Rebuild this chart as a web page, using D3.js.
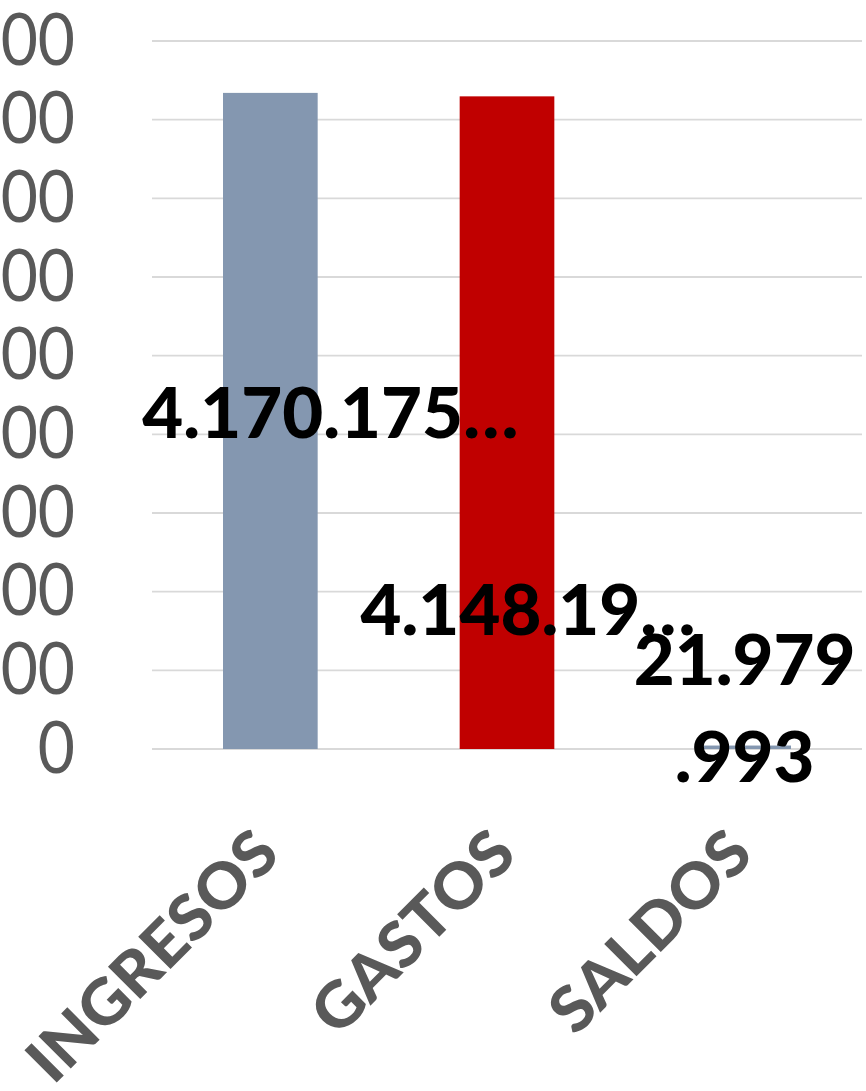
<!DOCTYPE html>
<html><head><meta charset="utf-8">
<script src="https://cdn.jsdelivr.net/npm/d3@7"></script>
<style>html,body{margin:0;padding:0;background:#fff;overflow:hidden}</style>
</head><body>
<svg id="c" width="866" height="1091"></svg>
<script>
// ---- data ----
const categories = ["INGRESOS", "GASTOS", "SALDOS"];
const values = [4170175500, 4148195507, 21979993];
const valueLabels = [["4.170.175…"], ["4.148.19…"], ["21.979", ".993"]];
const barColors = ["#8497B0", "#C00000", "#8497B0"];
const yTicks = [0, 500000000, 1000000000, 1500000000, 2000000000, 2500000000,
                3000000000, 3500000000, 4000000000, 4500000000];

// ---- layout ----
const W = 866, H = 1091;
const plot = {left: 152, right: 862, top: 41, bottom: 749};
const labelDx = [60, 21, 1];          // data label offset from bar centre (px)
const labelBaseline = [438, 635, 685]; // data label first-line baseline (px)
const labelLineHeight = 97;

const svg = d3.select("#c");
const x = d3.scaleBand().domain(categories).range([plot.left, plot.right])
  .paddingInner(0.6).paddingOuter(0.3);
const y = d3.scaleLinear().domain([0, 4500000000]).range([plot.bottom, plot.top]);

const loc = d3.formatLocale({decimal: ",", thousands: ".", grouping: [3], currency: ["", "€"]});
const fmt = loc.format(",d");

// gridlines
svg.append("g").selectAll("line").data(yTicks).join("line")
  .attr("x1", plot.left).attr("x2", plot.right)
  .attr("y1", d => y(d)).attr("y2", d => y(d))
  .attr("stroke", "#d9d9d9").attr("stroke-width", 1.8);

// y axis labels
const ax = svg.append("g").attr("transform", "translate(75,0) scale(0.89,1)")
  .call(d3.axisLeft(y).tickValues(yTicks).tickFormat(fmt).tickSize(0).tickPadding(0));
ax.select(".domain").remove();
ax.selectAll("text").attr("font-family", "Lato, 'Open Sans', sans-serif")
  .attr("font-size", 72).attr("fill", "#595959");

// bars
svg.append("g").selectAll("rect").data(categories).join("rect")
  .attr("x", d => x(d)).attr("width", x.bandwidth())
  .attr("y", (d, i) => y(values[i]))
  .attr("height", (d, i) => y(0) - y(values[i]))
  .attr("fill", (d, i) => barColors[i]);

// data labels
const dl = svg.append("g");
const dlTexts = [];
categories.forEach((c, i) => {
  valueLabels[i].forEach((s, j) => {
    const t = dl.append("text")
      .attr("text-anchor", "middle")
      .attr("font-family", "Lato, 'Open Sans', sans-serif")
      .attr("font-weight", 900).attr("font-size", 70).attr("fill", "#000")
      .text(s);
    dlTexts.push({t, cx: x(c) + x.bandwidth() / 2 + labelDx[i], by: labelBaseline[i] + j * labelLineHeight});
  });
});
const sxD = 376 / dlTexts[0].t.node().getComputedTextLength();
dlTexts.forEach(o => o.t.attr("transform", `translate(${o.cx},${o.by}) scale(${sxD},1)`));

// category labels
const cl = svg.append("g");
const cTexts = categories.map(c => cl.append("text")
  .attr("text-anchor", "end")
  .attr("font-family", "Lato, 'Open Sans', sans-serif")
  .attr("font-weight", 900).attr("font-size", 63).attr("fill", "#595959")
  .text(c));
const sxC = 324 / cTexts[0].node().getComputedTextLength();
cTexts.forEach((t, i) => {
  const c = categories[i];
  t.attr("transform", `translate(${x(c) + x.bandwidth() / 2 + 12},857) rotate(-45) scale(${sxC},1)`);
});
</script>
</body></html>
